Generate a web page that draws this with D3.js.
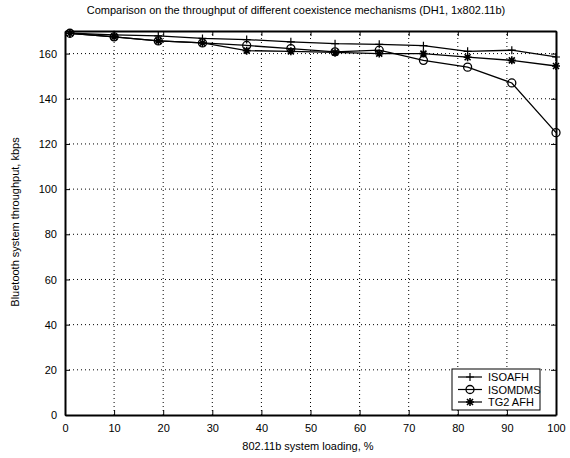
<!DOCTYPE html>
<html>
<head>
<meta charset="utf-8">
<script src="https://cdn.jsdelivr.net/npm/d3@7"></script>
<style>
  body { margin: 0; background: #fff; }
  svg { font-family: "Liberation Sans", Arial, sans-serif; }
</style>
</head>
<body>
<svg width="570" height="458"></svg>
<script>
var width = 570;
var height = 458;
var margin = { left: 65, top: 31, right: 14, bottom: 43 };

// data
var loading = [1, 10, 19, 28, 37, 46, 55, 64, 73, 82, 91, 100];
var isoAfh = [169, 168.3, 167.8, 166.7, 166.2, 165.2, 164.4, 164.1, 163.5, 161, 161.5, 158.5];
var isoMdms = [169, 167.4, 165.6, 164.7, 163.6, 162.2, 160.8, 161.5, 157, 154, 147, 125];
var tg2Afh = [169, 167.4, 165.6, 164.7, 161.3, 161, 160.5, 160, 160, 158.4, 157, 154.5];
var xTicks = [0, 10, 20, 30, 40, 50, 60, 70, 80, 90, 100];
var yTicks = [0, 20, 40, 60, 80, 100, 120, 140, 160];
var seriesNames = ["ISOAFH", "ISOMDMS", "TG2 AFH"];
var markers = ["plus", "circle", "star"];

var svg = d3.select("svg");
var x = d3.scaleLinear().domain([0, 100]).range([margin.left, width - margin.right]);
var y = d3.scaleLinear().domain([0, 170]).range([height - margin.bottom, margin.top]);

// dotted grid
svg.append("g").selectAll("line").data(xTicks.slice(1, -1)).enter().append("line")
  .attr("x1", function(d) { return x(d); }).attr("x2", function(d) { return x(d); })
  .attr("y1", y(0)).attr("y2", y(170))
  .attr("stroke", "#000").attr("stroke-width", 1).attr("stroke-dasharray", "1,3");
svg.append("g").selectAll("line").data(yTicks.slice(1)).enter().append("line")
  .attr("x1", x(0)).attr("x2", x(100))
  .attr("y1", function(d) { return y(d); }).attr("y2", function(d) { return y(d); })
  .attr("stroke", "#000").attr("stroke-width", 1).attr("stroke-dasharray", "1,3");

// axes (ticks inward, like matlab)
var xAxis = d3.axisBottom(x).tickValues(xTicks).tickSizeInner(-5).tickSizeOuter(0).tickPadding(9);
var yAxis = d3.axisLeft(y).tickValues(yTicks).tickSizeInner(-5).tickSizeOuter(0).tickPadding(8);
svg.append("g").attr("transform", "translate(0," + y(0) + ")").call(xAxis);
svg.append("g").attr("transform", "translate(" + x(0) + ",0)").call(yAxis);
svg.append("g").attr("transform", "translate(0," + y(170) + ")")
  .call(d3.axisTop(x).tickValues(xTicks).tickSizeInner(-5).tickSizeOuter(0).tickFormat(""));
svg.append("g").attr("transform", "translate(" + x(100) + ",0)")
  .call(d3.axisRight(y).tickValues(yTicks).tickSizeInner(-5).tickSizeOuter(0).tickFormat(""));
svg.selectAll(".domain").attr("stroke-width", 2);
svg.selectAll(".tick text").attr("font-size", 11).attr("font-family", "Liberation Sans, Arial, sans-serif").attr("fill", "#000");

// lines
var allSeries = [isoAfh, isoMdms, tg2Afh];
var line = d3.line().x(function(d, i) { return x(loading[i]); }).y(function(d) { return y(d); });
allSeries.forEach(function(s) {
  svg.append("path").datum(s).attr("d", line)
    .attr("fill", "none").attr("stroke", "#000").attr("stroke-width", 1.3);
});

function drawMarker(g, type, cx, cy) {
  if (type === "plus") {
    g.append("path").attr("d", "M" + (cx - 4) + "," + cy + "H" + (cx + 4) + "M" + cx + "," + (cy - 4) + "V" + (cy + 4))
      .attr("stroke", "#000").attr("stroke-width", 1.2);
  } else if (type === "circle") {
    g.append("circle").attr("cx", cx).attr("cy", cy).attr("r", 4)
      .attr("fill", "none").attr("stroke", "#000").attr("stroke-width", 1.3);
  } else {
    var r = 4;
    var p = "M" + (cx - r) + "," + cy + "H" + (cx + r) + "M" + cx + "," + (cy - r) + "V" + (cy + r) +
      "M" + (cx - 3) + "," + (cy - 3) + "L" + (cx + 3) + "," + (cy + 3) +
      "M" + (cx - 3) + "," + (cy + 3) + "L" + (cx + 3) + "," + (cy - 3);
    g.append("path").attr("d", p).attr("stroke", "#000").attr("stroke-width", 1.6);
  }
}

allSeries.forEach(function(s, k) {
  var g = svg.append("g");
  s.forEach(function(d, i) { drawMarker(g, markers[k], x(loading[i]), y(d)); });
});

// titles
svg.append("text").attr("x", 296).attr("y", 14).attr("text-anchor", "middle")
  .attr("font-size", 11).text("Comparison on the throughput of different coexistence mechanisms (DH1, 1x802.11b)");
svg.append("text").attr("x", 308).attr("y", 450).attr("text-anchor", "middle")
  .attr("font-size", 11).text("802.11b system loading, %");
svg.append("text").attr("transform", "translate(19," + 222 + ") rotate(-90)").attr("text-anchor", "middle")
  .attr("font-size", 11).text("Bluetooth system throughput, kbps");

// legend
var lg = svg.append("g").attr("transform", "translate(452,369)");
lg.append("rect").attr("width", 88).attr("height", 41).attr("fill", "#fff").attr("stroke", "#000").attr("stroke-width", 1);
seriesNames.forEach(function(name, k) {
  var ly = 8 + k * 12.5;
  lg.append("line").attr("x1", 6).attr("x2", 30).attr("y1", ly).attr("y2", ly).attr("stroke", "#000").attr("stroke-width", 1.2);
  drawMarker(lg, markers[k], 18, ly);
  lg.append("text").attr("x", 36).attr("y", ly + 4).attr("font-size", 11).text(name);
});
</script>
</body>
</html>
